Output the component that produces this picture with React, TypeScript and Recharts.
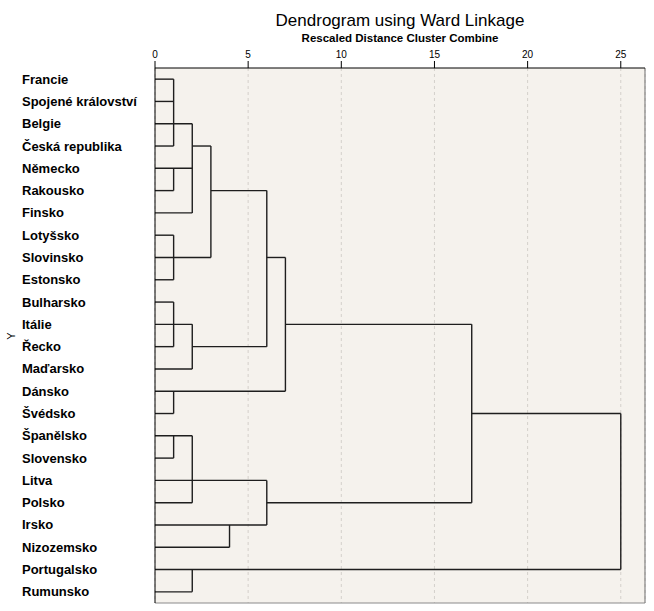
import React from "react";
import {
  ComposedChart,
  XAxis,
  YAxis,
  CartesianGrid,
  ReferenceLine,
  Scatter,
} from "recharts";

// Cases in dendrogram order (top to bottom)
const countries = [
  "Francie",
  "Spojené království",
  "Belgie",
  "Česká republika",
  "Německo",
  "Rakousko",
  "Finsko",
  "Lotyšsko",
  "Slovinsko",
  "Estonsko",
  "Bulharsko",
  "Itálie",
  "Řecko",
  "Maďarsko",
  "Dánsko",
  "Švédsko",
  "Španělsko",
  "Slovensko",
  "Litva",
  "Polsko",
  "Irsko",
  "Nizozemsko",
  "Portugalsko",
  "Rumunsko",
];

const distanceTicks = [0, 5, 10, 15, 20, 25];

// Horizontal links: row index (1-based), from distance, to distance
const horizontalLinks = [
  { row: 1, from: 0, to: 1 },
  { row: 2, from: 0, to: 1 },
  { row: 3, from: 0, to: 2 },
  { row: 4, from: 0, to: 1 },
  { row: 4, from: 2, to: 3 },
  { row: 5, from: 0, to: 2 },
  { row: 6, from: 0, to: 1 },
  { row: 6, from: 3, to: 6 },
  { row: 7, from: 0, to: 2 },
  { row: 8, from: 0, to: 1 },
  { row: 9, from: 0, to: 3 },
  { row: 9, from: 6, to: 7 },
  { row: 10, from: 0, to: 1 },
  { row: 11, from: 0, to: 1 },
  { row: 12, from: 0, to: 2 },
  { row: 12, from: 7, to: 17 },
  { row: 13, from: 0, to: 1 },
  { row: 13, from: 2, to: 6 },
  { row: 14, from: 0, to: 2 },
  { row: 15, from: 0, to: 7 },
  { row: 16, from: 0, to: 1 },
  { row: 16, from: 17, to: 25 },
  { row: 17, from: 0, to: 2 },
  { row: 18, from: 0, to: 1 },
  { row: 19, from: 0, to: 6 },
  { row: 20, from: 0, to: 2 },
  { row: 20, from: 6, to: 17 },
  { row: 21, from: 0, to: 6 },
  { row: 22, from: 0, to: 4 },
  { row: 23, from: 0, to: 25 },
  { row: 24, from: 0, to: 2 },
];

// Vertical links: merge distance, from row, to row
const verticalLinks = [
  { dist: 1, from: 1, to: 4 },
  { dist: 1, from: 5, to: 6 },
  { dist: 1, from: 8, to: 10 },
  { dist: 1, from: 11, to: 13 },
  { dist: 1, from: 15, to: 16 },
  { dist: 1, from: 17, to: 18 },
  { dist: 2, from: 3, to: 7 },
  { dist: 2, from: 12, to: 14 },
  { dist: 2, from: 17, to: 20 },
  { dist: 2, from: 23, to: 24 },
  { dist: 3, from: 4, to: 9 },
  { dist: 4, from: 21, to: 22 },
  { dist: 6, from: 6, to: 13 },
  { dist: 6, from: 19, to: 21 },
  { dist: 7, from: 9, to: 15 },
  { dist: 17, from: 12, to: 20 },
  { dist: 25, from: 16, to: 23 },
];

const leafPoints = countries.map((name, i) => ({ name, dist: 0, row: i + 1 }));

const FONT = "'Liberation Sans', Arial, Helvetica, sans-serif";
const LINE = "#1e1e1e";
const X_MAX = 26.3;

const RowTick = (props: any) => {
  const { y, payload } = props;
  return (
    <text
      x={22}
      y={y}
      dy={4.5}
      textAnchor="start"
      fontFamily={FONT}
      fontSize={13}
      fontWeight="bold"
      fill="#000"
    >
      {countries[payload.value - 1]}
    </text>
  );
};

export default function App() {
  return (
    <div
      style={{
        position: "absolute",
        left: 0,
        top: 0,
        width: 654,
        height: 611,
        background: "#fff",
        fontFamily: FONT,
      }}
    >
      <ComposedChart
        width={654}
        height={611}
        data={leafPoints}
        margin={{ top: 38, right: 9, bottom: 8, left: 0 }}
      >
        <CartesianGrid
          horizontal={false}
          vertical={true}
          stroke="#d4d0cb"
          strokeDasharray="3 3"
          fill="#f5f2ed"
          fillOpacity={1}
        />
        <XAxis
          type="number"
          dataKey="dist"
          orientation="top"
          domain={[0, X_MAX]}
          ticks={distanceTicks}
          allowDataOverflow
          height={30}
          tickSize={7}
          tickMargin={3}
          axisLine={{ stroke: "#000" }}
          tickLine={{ stroke: "#000" }}
          tick={{ fontSize: 10, fill: "#000", fontFamily: FONT }}
        />
        <YAxis
          type="number"
          dataKey="row"
          domain={[0.5, 24.5]}
          reversed
          ticks={countries.map((_, i) => i + 1)}
          interval={0}
          allowDataOverflow
          width={155}
          tickLine={false}
          axisLine={{ stroke: "#000" }}
          tick={<RowTick />}
        />
        <ReferenceLine x={X_MAX} stroke="#6e6e6e" ifOverflow="visible" />
        <ReferenceLine y={24.5} stroke="#8a8a8a" ifOverflow="visible" />
        {horizontalLinks.map((h, i) => (
          <ReferenceLine
            key={"h" + i}
            segment={[
              { x: h.from, y: h.row },
              { x: h.to, y: h.row },
            ]}
            stroke={LINE}
            strokeWidth={1.4}
            ifOverflow="visible"
          />
        ))}
        {verticalLinks.map((v, i) => (
          <ReferenceLine
            key={"v" + i}
            segment={[
              { x: v.dist, y: v.from },
              { x: v.dist, y: v.to },
            ]}
            stroke={LINE}
            strokeWidth={1.4}
            ifOverflow="visible"
          />
        ))}
        <Scatter
          dataKey="row"
          fill="none"
          shape={() => null}
          isAnimationActive={false}
        />
      </ComposedChart>
      <svg
        width={654}
        height={611}
        style={{ position: "absolute", left: 0, top: 0, pointerEvents: "none" }}
      >
        <text
          x={400}
          y={26}
          textAnchor="middle"
          fontFamily={FONT}
          fontSize={17}
          fill="#000"
        >
          Dendrogram using Ward Linkage
        </text>
        <text
          x={400}
          y={42}
          textAnchor="middle"
          fontFamily={FONT}
          fontSize={11.5}
          fontWeight="bold"
          fill="#000"
        >
          Rescaled Distance Cluster Combine
        </text>
        <text
          x={15}
          y={336}
          textAnchor="middle"
          transform="rotate(-90 15 336)"
          fontFamily={FONT}
          fontSize={11}
          fill="#000"
        >
          Y
        </text>
      </svg>
    </div>
  );
}
